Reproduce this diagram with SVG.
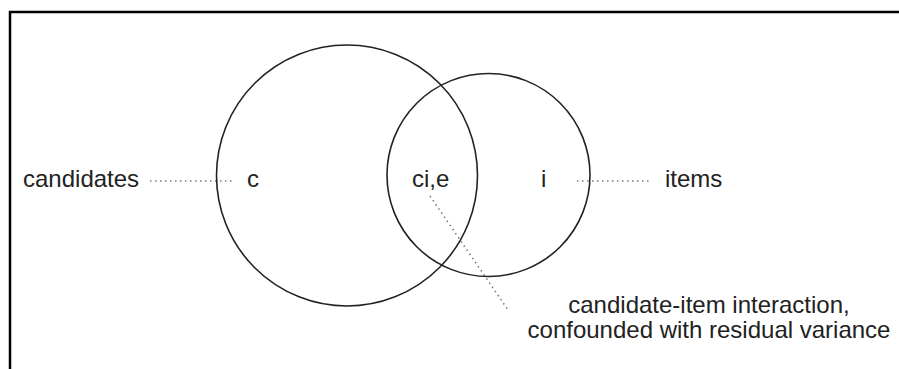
<svg xmlns="http://www.w3.org/2000/svg" width="899" height="369" viewBox="0 0 899 369">
<style>
.t{font-family:"Liberation Sans",Arial,sans-serif;font-size:24px;fill:#222}
.c{fill:none;stroke:#222;stroke-width:1.6}
.d{fill:none;stroke:#777;stroke-width:1.5;stroke-dasharray:1.5 3.5}
</style>
<rect x="0" y="0" width="899" height="369" fill="#fff"/>
<path d="M10 369 V12 H899" fill="none" stroke="#000" stroke-width="2.5"/>
<g id="connectors">
<line class="d" x1="150" y1="181" x2="233" y2="181"/>
<line class="d" x1="577" y1="181" x2="651" y2="181"/>
<line class="d" x1="430" y1="196" x2="508" y2="310"/>
</g>
<g id="candidates-circle"><circle class="c" cx="347" cy="175.5" r="130.5"/></g>
<g id="items-circle"><circle class="c" cx="488.5" cy="175" r="101.5"/></g>
<g id="candidates-label"><text class="t" x="23" y="187">candidates</text></g>
<g id="c-label"><text class="t" x="247" y="187">c</text></g>
<g id="cie-label"><text class="t" x="412" y="187">ci,e</text></g>
<g id="i-label"><text class="t" x="541" y="187">i</text></g>
<g id="items-label"><text class="t" x="665" y="187">items</text></g>
<g id="interaction-label"><text class="t" text-anchor="middle"><tspan x="709" y="313">candidate-item interaction,</tspan><tspan x="709" y="338">confounded with residual variance</tspan></text></g>
</svg>
